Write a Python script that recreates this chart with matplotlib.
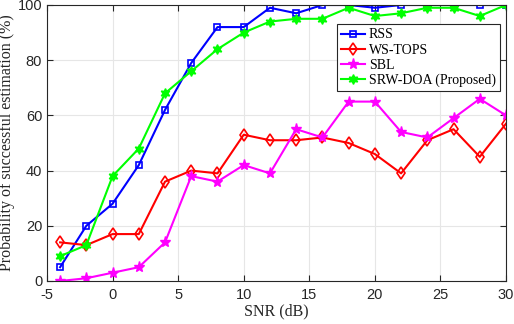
import matplotlib
matplotlib.use("Agg")
import matplotlib.pyplot as plt

plt.rcParams['axes.unicode_minus'] = False

snr = [-4, -2, 0, 2, 4, 6, 8, 10, 12, 14, 16, 18, 20, 22, 24, 26, 28, 30]
rss = [5, 20, 28, 42, 62, 79, 92, 92, 99, 97, 100, 100, 99, 100, 100, 100, 100, 100]
ws_tops = [14, 13, 17, 17, 36, 40, 39, 53, 51, 51, 52, 50, 46, 39, 51, 55, 45, 57]
sbl = [0, 1, 3, 5, 14, 38, 36, 42, 39, 55, 52, 65, 65, 54, 52, 59, 66, 60]
srw_doa = [9, 13, 38, 48, 68, 76, 84, 90, 94, 95, 95, 99, 96, 97, 99, 99, 96, 100]

xticks = [-5, 0, 5, 10, 15, 20, 25, 30]
yticks = [0, 20, 40, 60, 80, 100]

serif = ['Liberation Serif', 'DejaVu Serif']
sans = ['Liberation Sans', 'DejaVu Sans']

fig = plt.figure(figsize=(5.14, 3.24), dpi=100)
ax = fig.add_axes([47 / 514, 43 / 324, 459 / 514, 276 / 324])

ax.plot(snr, rss, color=(0, 0, 1), lw=1.5, marker='s', ms=4.5, mfc='none', mew=1.2, label='RSS')
ax.plot(snr, ws_tops, color=(1, 0, 0), lw=1.5, marker='d', ms=6, mfc='none', mew=1.2, label='WS-TOPS')
ax.plot(snr, sbl, color=(1, 0, 1), lw=1.5, marker='*', ms=8, label='SBL')
ax.plot(snr, srw_doa, color=(0, 1, 0), lw=1.5, marker=(6, 1, 0), ms=7, label='SRW-DOA (Proposed)')

ax.set_xlim(-5, 30)
ax.set_ylim(0, 100)
ax.set_xticks(xticks)
ax.set_yticks(yticks)
ax.grid(True, color='#e6e6e6', lw=0.8)
ax.set_axisbelow(True)
ax.tick_params(direction='in', length=4, labelsize=10.5, colors='#262626', top=True, right=True)
ax.tick_params(axis='x', pad=5)
for lab in ax.get_xticklabels() + ax.get_yticklabels():
    lab.set_family(sans)
for sp in ax.spines.values():
    sp.set_color('#262626')
    sp.set_linewidth(0.8)

ax.set_xlabel('SNR (dB)', family=serif, fontsize=11.5, color='#262626', labelpad=1)
ax.set_ylabel('Probability of successful estimation (%)', family=serif, fontsize=11.5, color='#262626', labelpad=2)

leg = ax.legend(loc='upper right', bbox_to_anchor=(0.987, 0.93), prop={'family': serif, 'size': 10},
                fancybox=False, edgecolor='#262626', framealpha=1, borderpad=0.3,
                handlelength=1.7, handletextpad=0.3, labelspacing=0.15, borderaxespad=0)
leg.get_frame().set_linewidth(0.8)

fig.savefig('out.png', dpi=100)
